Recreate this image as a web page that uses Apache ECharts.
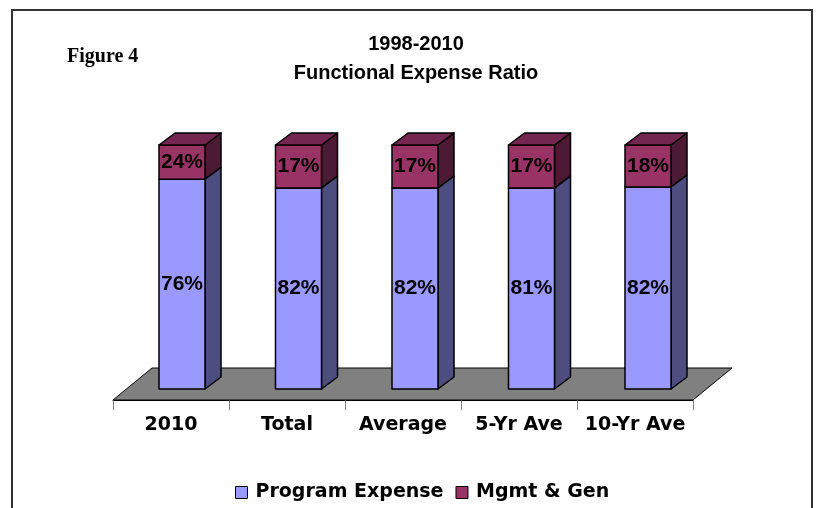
<!DOCTYPE html>
<html>
<head>
<meta charset="utf-8">
<title>Functional Expense Ratio</title>
<script src="https://cdn.jsdelivr.net/npm/echarts@6/dist/echarts.min.js"></script>
<style>
  html, body { margin: 0; padding: 0; background: #fff; }
  #chart { width: 820px; height: 508px; }
</style>
</head>
<body>
<div id="chart"></div>
<script>
const categories = ['2010', 'Total', 'Average', '5-Yr Ave', '10-Yr Ave']
// segment heights as drawn in the source (share of the 100% stack)
const programValues = [86, 82.4, 82.4, 82.4, 82.8]
const mgmtValues = [14, 17.6, 17.6, 17.6, 17.2]
// data labels printed on the bars
const programLabels = ['76%', '82%', '82%', '81%', '82%']
const mgmtLabels = ['24%', '17%', '17%', '17%', '18%']
const seriesNames = ['Program Expense', 'Mgmt & Gen']

const BAR_DX = 16
const BAR_DY = -12
const FLOOR_DX = 39
const FLOOR_DY = -32
const labelFont = 'bold 21px "Liberation Sans", Arial, sans-serif'
const wideFont = '"DejaVu Sans", Verdana, sans-serif'

const edge = { stroke: '#000', lineWidth: 1.5, lineJoin: 'round' }

const barRenderer = (colors, labels, withTop) => (params, api) => {
  const i = api.value(0)
  const bottom = api.coord([i, api.value(1)])
  const top = api.coord([i, api.value(2)])
  const half = api.size([1, 0])[0] * 0.395 / 2
  const x0 = bottom[0] - half
  const x1 = bottom[0] + half
  const yb = bottom[1]
  const yt = top[1]
  const children = [
    {
      type: 'polygon',
      shape: { points: [[x1, yb], [x1 + BAR_DX, yb + BAR_DY], [x1 + BAR_DX, yt + BAR_DY], [x1, yt]] },
      style: { fill: colors.side, ...edge }
    },
    {
      type: 'rect',
      shape: { x: x0, y: yt, width: x1 - x0, height: yb - yt },
      style: { fill: colors.front, ...edge }
    }
  ]
  if (withTop) {
    children.push({
      type: 'polygon',
      shape: { points: [[x0, yt], [x1, yt], [x1 + BAR_DX, yt + BAR_DY], [x0 + BAR_DX, yt + BAR_DY]] },
      style: { fill: colors.top, ...edge }
    })
  }
  children.push({
    type: 'text',
    style: {
      text: labels[params.dataIndex],
      x: bottom[0],
      y: (yb + yt) / 2,
      align: 'center',
      verticalAlign: 'middle',
      font: labelFont,
      fill: '#000'
    }
  })
  return { type: 'group', children }
}

const floorRenderer = (params) => {
  const cs = params.coordSys
  const yb = cs.y + cs.height
  return {
    type: 'polygon',
    shape: {
      points: [
        [cs.x, yb],
        [cs.x + cs.width, yb],
        [cs.x + cs.width + FLOOR_DX, yb + FLOOR_DY],
        [cs.x + FLOOR_DX, yb + FLOOR_DY]
      ]
    },
    style: { fill: '#808080', stroke: '#000', lineWidth: 1 }
  }
}

const chart = echarts.init(document.getElementById('chart'))

chart.setOption({
  animation: false,
  title: [
    {
      text: '1998-2010\nFunctional Expense Ratio',
      left: 411,
      top: 25,
      textAlign: 'center',
      textStyle: {
        fontFamily: '"Liberation Sans", Arial, sans-serif',
        fontWeight: 'bold',
        fontSize: 20,
        lineHeight: 29,
        color: '#000'
      }
    },
    {
      text: 'Figure 4',
      left: 62,
      top: 42,
      textStyle: {
        fontFamily: '"Liberation Serif", "Times New Roman", serif',
        fontWeight: 'bold',
        fontSize: 20,
        color: '#000'
      }
    }
  ],
  graphic: [
    {
      type: 'rect',
      silent: true,
      shape: { x: 12, y: 10, width: 800, height: 520 },
      style: { fill: 'none', stroke: '#333', lineWidth: 2 }
    }
  ],
  legend: {
    data: seriesNames,
    left: 230,
    top: 478,
    icon: 'rect',
    itemWidth: 12,
    itemHeight: 12,
    itemGap: 12,
    itemStyle: { borderColor: '#000', borderWidth: 1 },
    textStyle: {
      fontFamily: wideFont,
      fontWeight: 'bold',
      fontSize: 19,
      color: '#000',
      padding: [0, 0, 0, 3]
    }
  },
  grid: [
    { left: 123.75, width: 582.5, top: 145, height: 244 },
    { left: 113, width: 580, top: 300, height: 100 }
  ],
  xAxis: [
    { gridIndex: 0, type: 'category', data: categories, show: false },
    {
      gridIndex: 1,
      type: 'category',
      data: categories,
      axisLine: { lineStyle: { color: '#000', width: 1 } },
      axisTick: { show: true, interval: 0, length: 10, lineStyle: { color: '#808080', width: 1 } },
      axisLabel: {
        interval: 0,
        margin: 16,
        fontFamily: wideFont,
        fontWeight: 'bold',
        fontSize: 19,
        color: '#000'
      }
    }
  ],
  yAxis: [
    { gridIndex: 0, type: 'value', min: 0, max: 100, show: false },
    { gridIndex: 1, type: 'value', min: 0, max: 1, show: false }
  ],
  series: [
    {
      type: 'custom',
      xAxisIndex: 1,
      yAxisIndex: 1,
      silent: true,
      z: 1,
      data: [[0, 0]],
      renderItem: floorRenderer
    },
    {
      name: seriesNames[0],
      type: 'custom',
      z: 2,
      itemStyle: { color: '#9999FF' },
      encode: { x: 0, y: [1, 2] },
      data: categories.map((c, i) => [i, 0, programValues[i]]),
      renderItem: barRenderer({ front: '#9999FF', side: '#4D4D80' }, programLabels, false)
    },
    {
      name: seriesNames[1],
      type: 'custom',
      z: 3,
      itemStyle: { color: '#993366' },
      encode: { x: 0, y: [1, 2] },
      data: categories.map((c, i) => [i, programValues[i], programValues[i] + mgmtValues[i]]),
      renderItem: barRenderer({ front: '#993366', side: '#4D1A33', top: '#732650' }, mgmtLabels, true)
    }
  ]
})
</script>
</body>
</html>
